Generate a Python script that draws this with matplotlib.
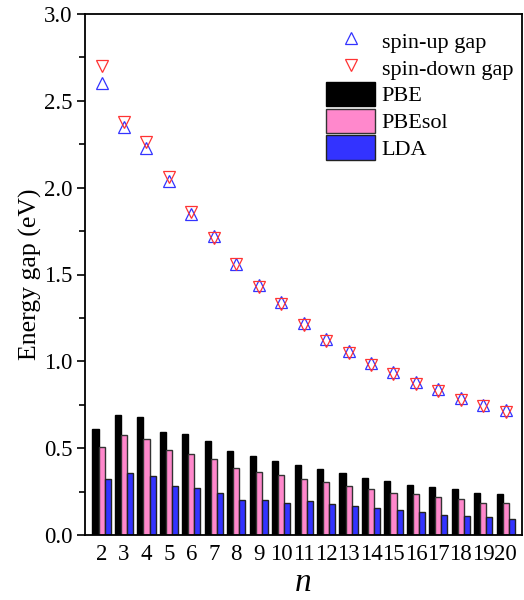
import matplotlib.pyplot as plt
import numpy as np
from matplotlib.ticker import MultipleLocator

plt.rcParams['font.family'] = ['Liberation Serif', 'DejaVu Serif']

n = np.arange(2, 21)
pbe = [0.611, 0.694, 0.682, 0.596, 0.582, 0.540, 0.486, 0.456, 0.427, 0.404,
       0.381, 0.356, 0.331, 0.310, 0.290, 0.275, 0.263, 0.244, 0.235]
pbesol = [0.506, 0.575, 0.556, 0.490, 0.469, 0.440, 0.388, 0.363, 0.346, 0.325,
          0.304, 0.285, 0.265, 0.244, 0.235, 0.219, 0.206, 0.188, 0.183]
lda = [0.321, 0.359, 0.342, 0.281, 0.271, 0.240, 0.200, 0.200, 0.183, 0.194,
       0.179, 0.169, 0.154, 0.144, 0.134, 0.119, 0.113, 0.106, 0.092]
spin_up = [2.60, 2.35, 2.23, 2.04, 1.85, 1.72, 1.56, 1.44, 1.34, 1.22,
           1.13, 1.06, 0.99, 0.94, 0.88, 0.84, 0.79, 0.75, 0.72]
spin_down = [2.70, 2.38, 2.26, 2.06, 1.86, 1.71, 1.56, 1.43, 1.33, 1.21,
             1.12, 1.05, 0.98, 0.93, 0.87, 0.83, 0.78, 0.745, 0.71]

fig = plt.figure(figsize=(5.24, 6.0), dpi=100)
ax = fig.add_axes([0.163, 0.108, 0.833, 0.869])

w = 0.27
b1 = ax.bar(n - w, pbe, width=w, color='black', edgecolor='black', linewidth=1.0, label='PBE')
b2 = ax.bar(n, pbesol, width=w, color='#ff88cc', edgecolor='#333333', linewidth=1.0, label='PBEsol')
b3 = ax.bar(n + w, lda, width=w, color='#3333ff', edgecolor='#222222', linewidth=1.0, label='LDA')

l1, = ax.plot(n, spin_up, linestyle='none', marker='^', markersize=9, markerfacecolor='none',
              markeredgecolor='#3333ff', markeredgewidth=0.9, label='spin-up gap')
l2, = ax.plot(n, spin_down, linestyle='none', marker='v', markersize=9, markerfacecolor='none',
              markeredgecolor='#ff3333', markeredgewidth=0.9, label='spin-down gap')

ax.set_xlim(1.28, 20.72)
ax.set_ylim(0, 3.0)
ax.set_xticks(n)
ax.set_xticklabels([str(i) for i in n])
ax.yaxis.set_major_locator(MultipleLocator(0.5))
ax.yaxis.set_minor_locator(MultipleLocator(0.25))
ax.tick_params(axis='x', length=0, labelsize=16.5, pad=6)
ax.tick_params(axis='y', which='major', direction='out', length=6, width=1.2, labelsize=16.5)
ax.tick_params(axis='y', which='minor', direction='out', length=4, width=1.2)
for s in ax.spines.values():
    s.set_linewidth(1.3)

ax.set_ylabel('Energy gap (eV)', fontsize=18.5, labelpad=1)
ax.set_xlabel('n', fontsize=24, style='italic', labelpad=2)

ax.legend([l1, l2, b1, b2, b3], ['spin-up gap', 'spin-down gap', 'PBE', 'PBEsol', 'LDA'],
          loc='upper right', frameon=False, fontsize=16, handlelength=2.2, handleheight=1.3,
          labelspacing=0.1, handletextpad=0.3, borderaxespad=0.2,
          bbox_to_anchor=(1.011, 0.998))

fig.savefig('out.png', dpi=100)
